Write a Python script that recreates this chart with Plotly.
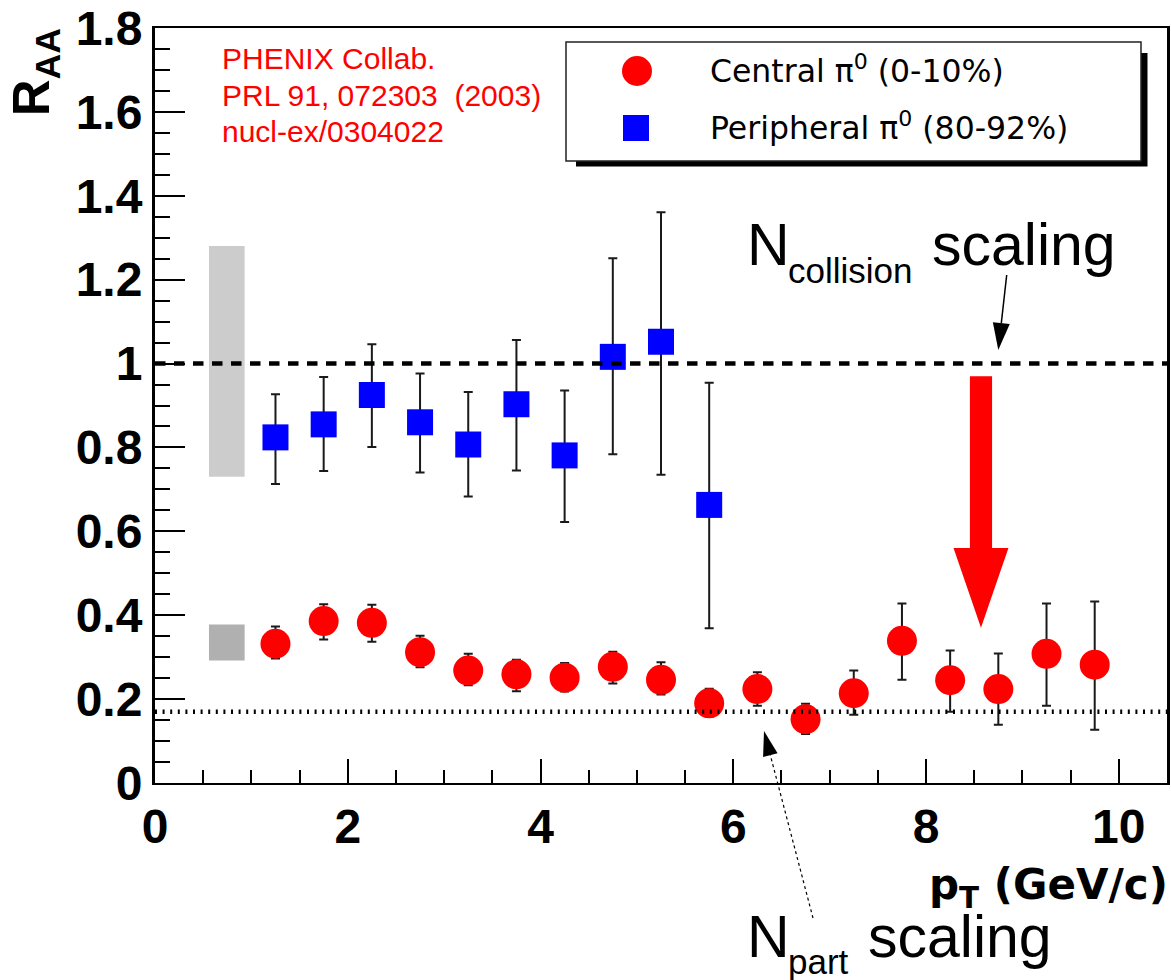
import math
import plotly.graph_objects as go

# ---------------- data ----------------
pt_peripheral = [1.25, 1.75, 2.25, 2.75, 3.25, 3.75, 4.25, 4.75, 5.25, 5.75]
raa_peripheral = [0.824, 0.855, 0.925, 0.860, 0.807, 0.903, 0.781, 1.016, 1.052, 0.663]
err_up_peripheral = [0.103, 0.113, 0.121, 0.116, 0.125, 0.153, 0.155, 0.235, 0.309, 0.291]
err_dn_peripheral = [0.111, 0.111, 0.124, 0.120, 0.124, 0.158, 0.159, 0.232, 0.317, 0.294]

pt_central = [1.25, 1.75, 2.25, 2.75, 3.25, 3.75, 4.25, 4.75, 5.25,
              5.75, 6.25, 6.75, 7.25, 7.75, 8.25, 8.75, 9.25, 9.75]
raa_central = [0.332, 0.386, 0.382, 0.312, 0.268, 0.259, 0.251, 0.277, 0.246,
               0.190, 0.224, 0.152, 0.214, 0.339, 0.245, 0.224, 0.308, 0.282]
top_central = [0.373, 0.426, 0.425, 0.351, 0.308, 0.294, 0.286, 0.313, 0.288,
               0.225, 0.264, 0.189, 0.268, 0.428, 0.316, 0.309, 0.428, 0.433]
bot_central = [0.297, 0.342, 0.337, 0.276, 0.233, 0.219, 0.218, 0.237, 0.211,
               0.158, 0.184, 0.117, 0.163, 0.246, 0.170, 0.139, 0.184, 0.127]

# normalisation uncertainty boxes: (centre, half height)
norm_peripheral = (1.005, 0.275)
norm_central = (0.335, 0.043)
norm_box_x = (0.56, 0.93)

ncoll_level = 1.0
npart_level = 0.17

x_ticks = [0, 2, 4, 6, 8, 10]
y_ticks = [0, 0.2, 0.4, 0.6, 0.8, 1.0, 1.2, 1.4, 1.6, 1.8]
y_tick_text = ["0", "0.2", "0.4", "0.6", "0.8", "1", "1.2", "1.4", "1.6", "1.8"]

# ---------------- canvas geometry ----------------
W, H = 1171, 980
ML, MR, MT, MB = 155, 4, 28, 197
X0, X1 = ML, W - MR
Y0, Y1 = MT, H - MB


def paper(px, py):
    return (px - X0) / (X1 - X0), (Y1 - py) / (Y1 - Y0)


ARIAL = "Liberation Sans"
DEJAVU = "DejaVu Sans"
ASC = {ARIAL: 0.905, DEJAVU: 0.928}
DESC = {ARIAL: 0.212, DEJAVU: 0.236}

annotations = []
shapes = []


def label(text, px_left, py_base, size, family=ARIAL, color="black",
          weight="normal", anchor="top"):
    if anchor == "top":
        x, y = paper(px_left - 2, py_base - ASC[family] * size - 2)
    else:
        x, y = paper(px_left - 2, py_base + DESC[family] * size + 2)
    annotations.append(dict(
        text=text, x=x, y=y, xref="paper", yref="paper",
        xanchor="left", yanchor=anchor, showarrow=False,
        font=dict(family=family, size=size, color=color, weight=weight)))


def arrow(tail, tip, head_len, head_w, width, dash="solid", color="black"):
    dx, dy = tip[0] - tail[0], tip[1] - tail[1]
    n = math.hypot(dx, dy)
    ux, uy = dx / n, dy / n
    bx, by = tip[0] - ux * head_len, tip[1] - uy * head_len
    px_, py_ = -uy, ux
    a = paper(*tail)
    b = paper(bx, by)
    shapes.append(dict(type="line", xref="paper", yref="paper",
                       x0=a[0], y0=a[1], x1=b[0], y1=b[1],
                       line=dict(color=color, width=width, dash=dash)))
    p1 = paper(*tip)
    p2 = paper(bx + px_ * head_w / 2, by + py_ * head_w / 2)
    p3 = paper(bx - px_ * head_w / 2, by - py_ * head_w / 2)
    path = "M{},{} L{},{} L{},{} Z".format(p1[0], p1[1], p2[0], p2[1], p3[0], p3[1])
    shapes.append(dict(type="path", xref="paper", yref="paper", path=path,
                       fillcolor=color, line=dict(color=color, width=0)))


# ---------------- figure ----------------
fig = go.Figure()

err_style = dict(color="#1a1a1a", thickness=2, width=4.5)

fig.add_trace(go.Scatter(
    x=pt_peripheral, y=raa_peripheral, mode="markers",
    marker=dict(symbol="square", size=26, color="#0000ff", line=dict(width=0)),
    error_y=dict(type="data", symmetric=False, array=err_up_peripheral,
                 arrayminus=err_dn_peripheral, **err_style),
    name="Peripheral"))

fig.add_trace(go.Scatter(
    x=pt_central, y=raa_central, mode="markers",
    marker=dict(symbol="circle", size=30, color="#ff0000", line=dict(width=0)),
    error_y=dict(type="data", symmetric=False,
                 array=[t - v for t, v in zip(top_central, raa_central)],
                 arrayminus=[v - b for v, b in zip(raa_central, bot_central)],
                 **err_style),
    name="Central"))

# normalisation boxes
for (c, h), col in ((norm_peripheral, "#cccccc"), (norm_central, "#b1b0b1")):
    shapes.append(dict(type="rect", xref="x", yref="y", layer="below",
                       x0=norm_box_x[0], x1=norm_box_x[1], y0=c - h, y1=c + h,
                       fillcolor=col, line=dict(width=0)))

# scaling reference lines
shapes.append(dict(type="line", xref="x", yref="y", x0=0, x1=10.5,
                   y0=ncoll_level, y1=ncoll_level,
                   line=dict(color="black", width=4.5, dash="10.5px,8.5px")))
shapes.append(dict(type="line", xref="x", yref="y", x0=0, x1=10.5,
                   y0=npart_level, y1=npart_level,
                   line=dict(color="black", width=4.5, dash="2px,5.6px")))

# big red suppression arrow (data coordinates)
ax_c, shaft_hw, head_hw = 8.57, 0.115, 0.285
a_top, a_head, a_tip = 0.97, 0.56, 0.37
red_path = ("M{l},{t} L{r},{t} L{r},{h} L{R},{h} L{c},{p} L{L},{h} L{l},{h} Z"
            .format(l=ax_c - shaft_hw, r=ax_c + shaft_hw, t=a_top, h=a_head,
                    R=ax_c + head_hw, L=ax_c - head_hw, c=ax_c, p=a_tip))
shapes.append(dict(type="path", xref="x", yref="y", path=red_path,
                   fillcolor="#ff0000", line=dict(width=0)))

# legend box with drop shadow
s0, s1 = paper(576, 53), paper(1147.5, 166.5)
shapes.append(dict(type="rect", xref="paper", yref="paper",
                   x0=s0[0], y0=s0[1], x1=s1[0], y1=s1[1],
                   fillcolor="black", line=dict(width=0)))
b0, b1 = paper(566, 42), paper(1141, 161)
shapes.append(dict(type="rect", xref="paper", yref="paper",
                   x0=b0[0], y0=b0[1], x1=b1[0], y1=b1[1],
                   fillcolor="white", line=dict(color="#222222", width=1.5)))
c0, c1 = paper(622, 56), paper(652, 86)
shapes.append(dict(type="circle", xref="paper", yref="paper",
                   x0=c0[0], y0=c0[1], x1=c1[0], y1=c1[1],
                   fillcolor="#ff0000", line=dict(width=0)))
q0, q1 = paper(623, 115), paper(649, 141)
shapes.append(dict(type="rect", xref="paper", yref="paper",
                   x0=q0[0], y0=q0[1], x1=q1[0], y1=q1[1],
                   fillcolor="#0000ff", line=dict(width=0)))

label("Central \u03c0<sup>0</sup> (0-10%)", 710, 82, 31.5, family=DEJAVU, anchor="bottom")
label("Peripheral \u03c0<sup>0</sup> (80-92%)", 710, 139, 31.5, family=DEJAVU, anchor="bottom")

# publication reference
label("PHENIX Collab.", 222, 69, 30, color="#ff0000")
label("PRL 91, 072303\u00a0 (2003)", 222, 106.5, 30, color="#ff0000")
label("nucl-ex/0304022", 222, 142, 30, color="#ff0000")

# scaling annotations
label("N", 747, 265, 59)
label("collision", 788, 283, 35)
label("scaling", 932, 265, 59)
arrow((1006.7, 275), (998.3, 350), 27, 17, 1.5)

label("N", 747, 957, 59)
label("part", 788, 974, 35)
label("scaling", 868, 957, 59)
arrow((813, 918), (764, 731), 25, 15, 1.2, dash="3px,3px")

# axis titles
tx, ty = paper(1169.5, 899 - 0.928 * 42 - 2)
annotations.append(dict(text="p<sub>T</sub> (GeV/c)", x=tx, y=ty, xref="paper", yref="paper",
                        xanchor="right", yanchor="top", showarrow=False,
                        font=dict(family=DEJAVU, size=42, weight="bold", color="black")))
rx, ry = paper(50 - 0.905 * 51 - 2, 26)
annotations.append(dict(text="R<sub>AA</sub>", x=rx, y=ry, xref="paper", yref="paper",
                        xanchor="left", yanchor="top", showarrow=False, textangle=-90,
                        font=dict(family=ARIAL, size=51, weight="bold", color="black")))

tick_font = dict(family=ARIAL, size=48, weight="bold", color="black")

fig.update_layout(
    width=W, height=H,
    margin=dict(l=ML, r=MR, t=MT, b=MB, pad=0),
    paper_bgcolor="white", plot_bgcolor="white",
    showlegend=False,
    shapes=shapes, annotations=annotations,
    xaxis=dict(range=[0, 10.5], tickvals=x_ticks, ticktext=[str(v) for v in x_ticks],
               ticks="inside", ticklen=24, tickwidth=2, tickcolor="black",
               showline=True, linewidth=2, linecolor="black", mirror=True,
               showgrid=False, zeroline=False, tickfont=tick_font, automargin=False,
               minor=dict(dtick=0.5, ticks="inside", ticklen=13, tickwidth=2,
                          tickcolor="black", showgrid=False)),
    yaxis=dict(range=[0, 1.8], tickvals=y_ticks, ticktext=y_tick_text,
               ticks="inside", ticklen=30, tickwidth=2, tickcolor="black",
               showline=True, linewidth=3, linecolor="black", mirror=True,
               showgrid=False, zeroline=False, tickfont=tick_font, automargin=False,
               minor=dict(dtick=0.05, ticks="inside", ticklen=15, tickwidth=2,
                          tickcolor="black", showgrid=False)),
)

fig.write_html("out.html")
